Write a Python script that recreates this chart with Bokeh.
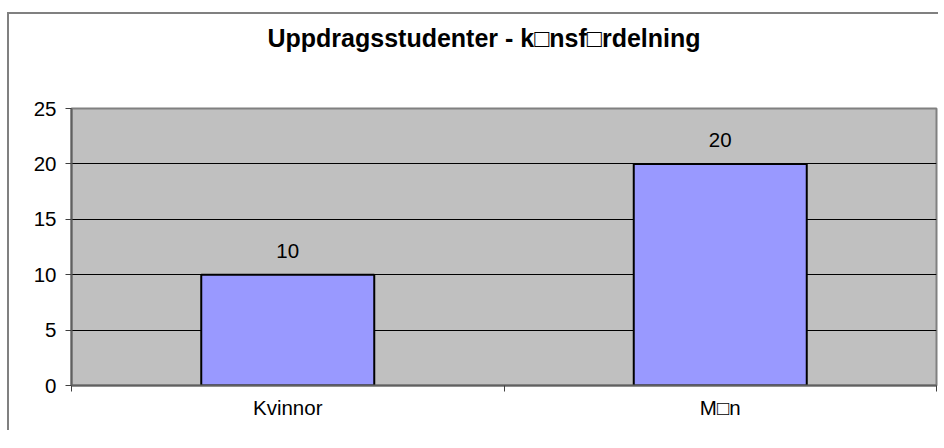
from bokeh.plotting import figure
from bokeh.models import Range1d, FixedTicker, Title, ColumnDataSource, InlineStyleSheet
from bokeh.core.properties import value
from bokeh.embed import file_html
from bokeh.resources import INLINE

title_text = "Uppdragsstudenter - k\u25a1nsf\u25a1rdelning"
categories = ["Kvinnor", "M\u25a1n"]
counts = [10, 20]
y_ticks = [0, 5, 10, 15, 20, 25]

FONT = "Liberation Sans"
FS = "20.5px"

xs = [i + 0.5 for i in range(len(categories))]
src = ColumnDataSource(dict(x=xs, top=counts, lab=[str(c) for c in counts]))

p = figure(width=938, height=430, output_backend="svg", toolbar_location=None,
           x_range=Range1d(0, len(categories)), y_range=Range1d(0, 25),
           min_border_left=71, min_border_right=2, min_border_top=0, min_border_bottom=45)
p.background_fill_color = "#C0C0C0"
p.border_fill_color = None
p.outline_line_color = "#808080"
p.outline_line_width = 2

p.vbar(x="x", top="top", width=0.4, source=src, fill_color="#9999FF", line_color="black", line_width=2)
p.text(x="x", y="top", text="lab", source=src, text_align="center", text_baseline="middle",
       y_offset=-24, text_font=value(FONT), text_font_size=FS, text_color="black")

p.xgrid.visible = False
p.ygrid.ticker = FixedTicker(ticks=y_ticks)
p.ygrid.grid_line_color = "black"
p.ygrid.grid_line_width = 1

ya = p.yaxis[0]
ya.ticker = FixedTicker(ticks=y_ticks)
ya.major_tick_in = 0
ya.major_tick_out = 6
ya.minor_tick_line_color = None
ya.major_tick_line_color = "#404040"
ya.axis_line_color = "#606060"
ya.axis_line_width = 2
ya.major_label_standoff = 9
ya.major_label_text_font = FONT
ya.major_label_text_font_size = FS
ya.major_label_text_color = "black"

xa = p.xaxis[0]
xa.ticker = FixedTicker(ticks=xs, minor_ticks=list(range(len(categories) + 1)))
xa.major_label_overrides = {x: c for x, c in zip(xs, categories)}
xa.major_tick_line_color = None
xa.minor_tick_in = 0
xa.minor_tick_out = 6
xa.minor_tick_line_color = "#404040"
xa.axis_line_color = "#606060"
xa.axis_line_width = 2
xa.major_label_standoff = 4
xa.major_label_text_font = FONT
xa.major_label_text_font_size = FS
xa.major_label_text_color = "black"

# spacer (nearest the frame) then the main title above it
p.add_layout(Title(text=" ", text_font=FONT, text_font_size="19px", standoff=9), "above")
p.add_layout(Title(text=title_text, align="left", offset=196, vertical_align="top", standoff=46,
                   text_font=FONT, text_font_size="25px", text_font_style="bold", text_color="black"), "above")

# outer chart-area frame (left and top edges) drawn as host shadows behind the transparent border
p.stylesheets = [InlineStyleSheet(css=(
    ":host{background:white;box-shadow:inset 7px 12px 0 0 white, inset 9px 14px 0 0 #808080;}"
))]

open("out.html", "w").write(file_html(p, INLINE))
